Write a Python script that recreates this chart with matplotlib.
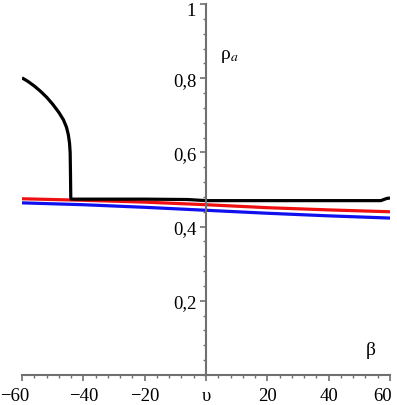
import matplotlib
matplotlib.use('Agg')
import matplotlib.pyplot as plt
import matplotlib.transforms as mtransforms
from matplotlib.ticker import MultipleLocator, FixedLocator
import numpy as np

# curves (beta, rho_a)
black_x = [-60, -58, -56, -54, -52, -50, -48, -46.5, -45.5, -44.9, -44.5, -44.3, -44.2, -44.1,
           -44.0, -20, -6, 0, 20, 40, 57, 59, 60]
black_y = [0.801, 0.791, 0.779, 0.765, 0.749, 0.730, 0.708, 0.688, 0.668, 0.648, 0.625, 0.60, 0.55, 0.48,
           0.474, 0.474, 0.473, 0.470, 0.470, 0.470, 0.470, 0.476, 0.477]

red_x = [-60, -40, -20, 0, 20, 40, 60]
red_y = [0.475, 0.471, 0.466, 0.459, 0.451, 0.445, 0.440]

blue_x = [-60, -40, -20, 0, 20, 40, 60]
blue_y = [0.464, 0.459, 0.452, 0.444, 0.436, 0.429, 0.423]

xticks = [-60, -40, -20, 0, 20, 40, 60]
xlabels = ['\u221260', '\u221240', '\u221220', '\u03c5', '20', '40', '60']
yticks = [0.2, 0.4, 0.6, 0.8, 1.0]
ylabels = ['0,2', '0,4', '0,6', '0,8', '1']

plt.rcParams.update({
    'font.family': ['Liberation Serif', 'DejaVu Serif'],
    'mathtext.fontset': 'stix',
    'font.size': 13,
})

fig = plt.figure(figsize=(3.97, 4.06), dpi=100)
ax = fig.add_axes([22 / 397, 30 / 406, 368 / 397, 371 / 406])
ax.set_xlim(-60, 60)
ax.set_ylim(0, 1)

ax.plot(blue_x, blue_y, color='#1010ee', lw=2.3, solid_capstyle='butt')
ax.plot(red_x, red_y, color='#ee1010', lw=2.3, solid_capstyle='butt')
ax.plot(black_x, black_y, color='black', lw=2.3, solid_capstyle='butt')

for s in ['top', 'right']:
    ax.spines[s].set_visible(False)
ax.spines['left'].set_position(('data', 0))
ax.spines['bottom'].set_position(('data', 0))
for s in ['left', 'bottom']:
    ax.spines[s].set_color('#707070')
    ax.spines[s].set_linewidth(1.5)

ax.xaxis.set_major_locator(FixedLocator(xticks))
ax.set_xticklabels(xlabels)
ax.xaxis.set_minor_locator(MultipleLocator(4))
ax.yaxis.set_major_locator(FixedLocator(yticks))
ax.set_yticklabels(ylabels)
ax.yaxis.set_minor_locator(MultipleLocator(0.04))

ax.tick_params(axis='both', which='major', length=4, width=1.2, color='#707070', labelsize=13.5)
ax.tick_params(axis='both', which='minor', length=2, width=1.0, color='#707070')
ax.tick_params(axis='x', pad=5)
ax.tick_params(axis='y', pad=3)

# nudge edge labels inwards like in the original
xl = ax.get_xticklabels()
xl[0].set_transform(xl[0].get_transform() + mtransforms.ScaledTranslation(-5 / 72, 0, fig.dpi_scale_trans))
xl[-1].set_transform(xl[-1].get_transform() + mtransforms.ScaledTranslation(-5 / 72, 0, fig.dpi_scale_trans))
yl = ax.get_yticklabels()
yl[-1].set_transform(yl[-1].get_transform() + mtransforms.ScaledTranslation(0, -3 / 72, fig.dpi_scale_trans))

ax.text(4.5, 0.86, '\u03c1$_{a}$', fontsize=14, ha='left', va='center')
ax.text(52, 0.07, '\u03b2', fontsize=14, ha='left', va='center')

fig.savefig('out.png', dpi=100)
